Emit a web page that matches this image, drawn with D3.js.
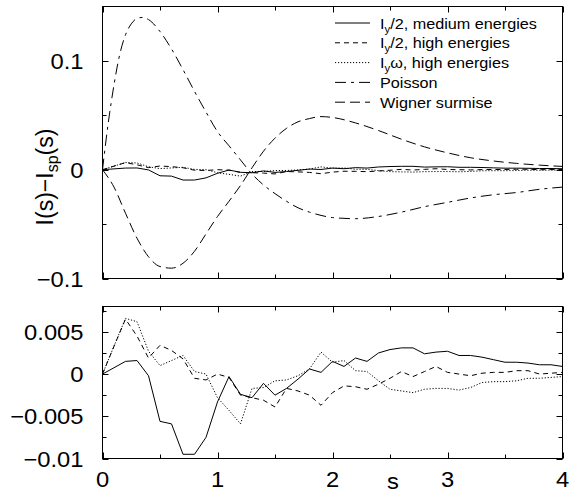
<!DOCTYPE html>
<html><head><meta charset="utf-8">
<script src="https://cdn.jsdelivr.net/npm/d3@7"></script>
<style>
body{margin:0;background:#fff}
text{font-family:"Liberation Sans",Arial,Helvetica,sans-serif;fill:#000}
</style>
</head><body>
<svg id="chart" width="571" height="495"></svg>
<script>
// ---------------- data ----------------
const sGrid = [0,0.1,0.2,0.3,0.4,0.5,0.6,0.7,0.8,0.9,1.0,1.1,1.2,1.3,1.4,1.5,1.6,1.7,1.8,1.9,2.0,
               2.1,2.2,2.3,2.4,2.5,2.6,2.7,2.8,2.9,3.0,3.1,3.2,3.3,3.4,3.5,3.6,3.7,3.8,3.9,4.0];
const iy2Medium = [0,0.00075,0.0015,0.0016,-0.0002,-0.0056,-0.0059,-0.0095,-0.0095,-0.0075,-0.0033,
                   -0.0003,-0.0024,-0.0028,-0.0011,-0.0025,-0.0017,-0.0006,0.0006,0.0002,0.0015,
                   0.0009,0.0019,0.0015,0.0025,0.0029,0.0031,0.0031,0.0024,0.0026,0.0027,
                   0.0022,0.0022,0.0020,0.0017,0.0014,0.0014,0.0013,0.0011,0.0011,0.0009];
const iy2High = [0,0.0033,0.0065,0.0045,0.0019,0.0034,0.0028,0.0018,-0.0005,-0.0007,0.0000,
                 -0.0004,-0.0025,-0.0028,-0.0031,-0.0039,-0.0017,-0.0020,-0.0025,-0.0037,-0.0022,
                 -0.0014,-0.0015,-0.0018,-0.0012,-0.0005,0.0003,-0.0003,0.0003,0.0009,0.0002,
                 0.0000,-0.0002,0.0001,0.0002,0.0002,0.0004,0.0004,0.0000,0.0001,0.0002];
const iywHigh = [0,0.0033,0.0066,0.0062,0.0027,0.0010,0.0016,0.0022,0.0003,0.0000,-0.0028,
                 -0.0043,-0.0059,-0.0017,-0.0016,-0.0008,-0.0007,-0.0002,0.0006,0.0026,0.0014,
                 0.0016,0.0004,0.0003,-0.0008,-0.0018,-0.0020,-0.0022,-0.0018,-0.0017,-0.0017,
                 -0.0019,-0.0016,-0.0010,-0.0009,-0.0009,-0.0008,-0.0005,-0.0005,-0.0004,-0.0003];
const poissonS = [0,0.05,0.1,0.15,0.2,0.25,0.3,0.35,0.4,0.5,0.6,0.7,0.8,0.9,1.0,1.1,1.2,1.3,1.4,1.5,
                  1.6,1.7,1.8,1.9,2.0,2.2,2.4,2.6,2.8,3.0,3.2,3.4,3.6,3.8,4.0];
const poissonV = [0,0.043,0.078,0.106,0.124,0.134,0.139,0.140,0.138,0.127,0.111,0.092,0.072,0.053,0.035,0.022,0.009,-0.004,-0.014,-0.022,
                  -0.029,-0.035,-0.039,-0.042,-0.044,-0.045,-0.043,-0.039,-0.034,-0.030,-0.026,-0.023,-0.021,-0.018,-0.016];
const wignerS = [0,0.1,0.2,0.3,0.4,0.5,0.6,0.7,0.8,0.9,1.0,1.1,1.2,1.3,1.4,1.5,1.6,1.7,1.8,1.9,2.0,
                 2.2,2.4,2.6,2.8,3.0,3.2,3.4,3.6,3.8,4.0];
const wignerV = [0,-0.016,-0.040,-0.063,-0.080,-0.089,-0.0905,-0.086,-0.075,-0.059,-0.043,-0.029,-0.0145,0.0017,0.017,0.029,0.038,0.044,0.047,0.0488,0.048,
                 0.043,0.036,0.028,0.021,0.0155,0.011,0.008,0.0058,0.0042,0.003];

const topYTicks = [-0.1,0,0.1];
const topYTickLabels = ["\u22120.1","0","0.1"];
const topYMinor = [-0.05,0.05];
const botYTicks = [-0.01,-0.005,0,0.005];
const botYTickLabels = ["\u22120.01","\u22120.005","0","0.005"];
const botYMinor = [-0.0075,-0.0025,0.0025,0.0075];
const xTicks = [0,1,2,3,4];
const xTickLabels = ["0","1","2","3","4"];
const xMinor = [0.5,1.5,2.5,3.5];

// ---------------- layout ----------------
const svg = d3.select("#chart");
const L = 102.5, R = 562.5;
const x = d3.scaleLinear().domain([0,4]).range([L,R]);
const yTop = d3.scaleLinear().domain([-0.1,0.15]).range([278.5,6.5]);
const yBot = d3.scaleLinear().domain([-0.01,0.008]).range([458.5,306.5]);

const TICK = 6, MTICK = 4;
const FS = 22;

function panel(y, yTicks, yLabels, yMinor, showX){
  const g = svg.append("g");
  const [yb, yt] = y.range();
  const tk = (x1,y1,x2,y2)=>g.append("line").attr("x1",x1).attr("y1",y1).attr("x2",x2).attr("y2",y2)
                       .attr("stroke","#000").attr("stroke-width",1);
  yTicks.forEach(v=>{ const yy=Math.round(y(v))+0.5; tk(L,yy,L+TICK,yy); tk(R,yy,R-TICK,yy); });
  yMinor.forEach(v=>{ const yy=Math.round(y(v))+0.5; tk(L,yy,L+MTICK,yy); tk(R,yy,R-MTICK,yy); });
  xTicks.forEach(v=>{ const xx=Math.round(x(v))+0.5; tk(xx,yb,xx,yb-TICK); tk(xx,yt,xx,yt+TICK); });
  xMinor.forEach(v=>{ const xx=Math.round(x(v))+0.5; tk(xx,yb,xx,yb-MTICK); tk(xx,yt,xx,yt+MTICK); });
  g.append("rect").attr("x",L).attr("y",yt).attr("width",R-L).attr("height",yb-yt)
    .attr("fill","none").attr("stroke","#000").attr("stroke-width",1);
  yTicks.forEach((v,i)=>{
    g.append("text").attr("text-anchor","end").attr("font-size",FS)
      .attr("transform",`translate(${L-19},${y(v)+8}) scale(1.08,1)`).text(yLabels[i]);
  });
  if(showX){
    xTicks.forEach((v,i)=>{
      g.append("text").attr("text-anchor","middle").attr("font-size",FS)
        .attr("transform",`translate(${x(v)},${487}) scale(1.08,1)`).text(xTickLabels[i]);
    });
  }
  return g;
}

const gTop = panel(yTop, topYTicks, topYTickLabels, topYMinor, false);
const gBot = panel(yBot, botYTicks, botYTickLabels, botYMinor, true);

const styles = {
  medium: {dash:null},
  high: {dash:"5,4"},
  omega: {dash:"1.2,1.8"},
  poisson: {dash:"11,5,3,5"},
  wigner: {dash:"10,5"}
};

function drawLine(g, xs, ys, yScale, st, curve){
  const data = xs.map((s,i)=>[s,ys[i]]);
  const line = d3.line().x(d=>x(d[0])).y(d=>yScale(d[1])).curve(curve||d3.curveLinear);
  g.append("path").datum(data).attr("d",line).attr("fill","none")
    .attr("stroke","#000").attr("stroke-width",1)
    .attr("stroke-dasharray",st.dash);
}

drawLine(gTop, poissonS, poissonV, yTop, styles.poisson, d3.curveMonotoneX);
drawLine(gTop, wignerS, wignerV, yTop, styles.wigner, d3.curveMonotoneX);
drawLine(gTop, sGrid, iy2Medium, yTop, styles.medium);
drawLine(gTop, sGrid, iy2High, yTop, styles.high);
drawLine(gTop, sGrid, iywHigh, yTop, styles.omega);
drawLine(gBot, sGrid, iy2Medium, yBot, styles.medium);
drawLine(gBot, sGrid, iy2High, yBot, styles.high);
drawLine(gBot, sGrid, iywHigh, yBot, styles.omega);

// legend
const legendItems = [
  {parts:[["I",0],["y",1],["/2, medium energies",0]], st:styles.medium},
  {parts:[["I",0],["y",1],["/2, high energies",0]], st:styles.high},
  {parts:[["I",0],["y",1],["\u03c9, high energies",0]], st:styles.omega},
  {parts:[["Poisson",0]], st:styles.poisson},
  {parts:[["Wigner surmise",0]], st:styles.wigner}
];
const LFS = 15;
legendItems.forEach((it,i)=>{
  const cy = 23 + i*19.8;
  gTop.append("line").attr("x1",335).attr("x2",370).attr("y1",cy).attr("y2",cy)
    .attr("stroke","#000").attr("stroke-width",1).attr("stroke-dasharray",it.st.dash);
  const t = gTop.append("text").attr("font-size",LFS)
    .attr("transform",`translate(380,${cy+5.5}) scale(1.08,1)`);
  it.parts.forEach(([str,sub])=>{
    if(sub) t.append("tspan").attr("font-size",LFS*0.7).attr("dy",4).text(str);
    else {
      const ts = t.append("tspan").text(str);
      if(t.selectAll("tspan").size()>1) ts.attr("dy",-4);
    }
  });
});

// y axis title
const yt = svg.append("text").attr("font-size",23).attr("text-anchor","middle")
  .attr("transform","translate(53,177) rotate(-90)");
yt.append("tspan").text("I(s)\u2212I");
yt.append("tspan").attr("font-size",16).attr("dy",5).text("sp");
yt.append("tspan").attr("dy",-5).text("(s)");

// x axis title
svg.append("text").attr("font-size",FS).attr("text-anchor","middle")
  .attr("transform","translate(393,489) scale(1.08,1)").text("s");
</script>
</body></html>
